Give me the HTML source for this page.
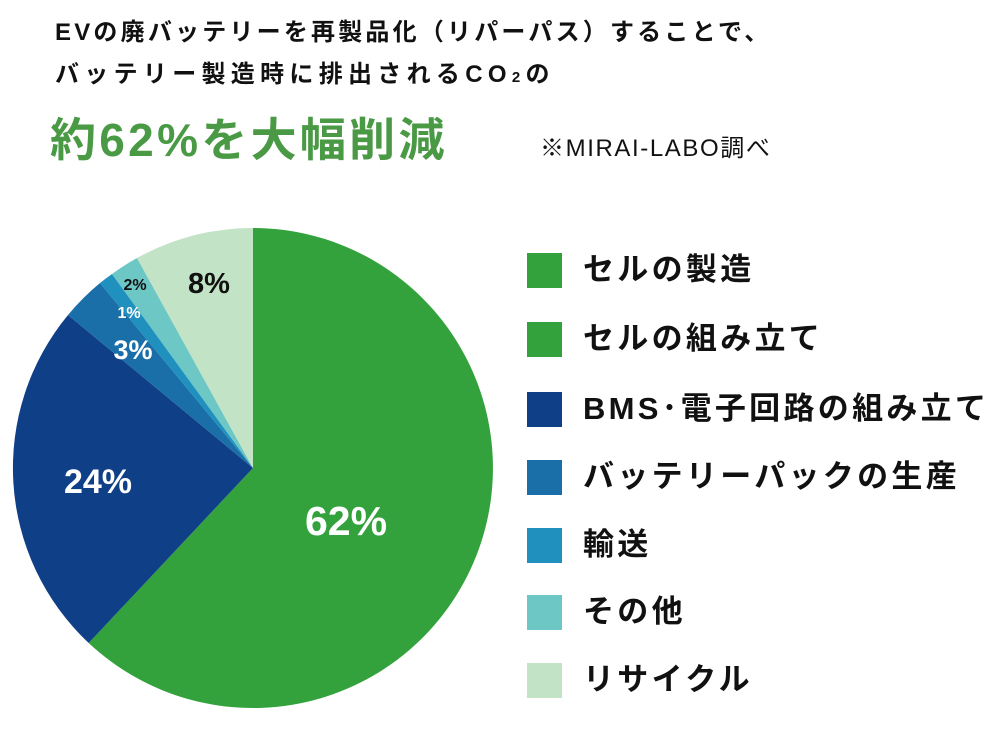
<!DOCTYPE html>
<html><head><meta charset="utf-8"><style>
body{margin:0;width:1000px;height:750px;background:#fff;overflow:hidden;font-family:"Liberation Sans","Noto Sans CJK JP",sans-serif;}
.t{position:absolute;font-weight:bold;color:#111;white-space:nowrap;}
.sq{position:absolute;left:527px;width:35px;height:35px;}
.lg{position:absolute;left:583px;font-size:31px;letter-spacing:3.3px;font-weight:bold;color:#111;white-space:nowrap;line-height:1;}
</style></head><body>
<div class="t" style="left:55px;top:12px;font-size:24px;letter-spacing:3.2px;">EVの廃バッテリーを再製品化（リパーパス）することで、</div>
<div class="t" style="left:55px;top:54px;font-size:24px;letter-spacing:5.3px;">バッテリー製造時に排出されるCO<span style="font-size:15px">2</span>の</div>
<div class="t" style="left:50px;top:104px;font-size:46px;letter-spacing:3.3px;color:#4a9a45;">約62%を大幅削減</div>
<div class="t" style="left:540px;top:128px;font-size:24px;letter-spacing:1.6px;font-weight:normal;">※MIRAI-LABO調べ</div>
<svg width="1000" height="750" style="position:absolute;left:0;top:0">
<path d="M253,468 L253,228 A240,240 0 1 1 88.7,643 Z" fill="#33a23d"/>
<path d="M253,468 L88.7,643 A240,240 0 0 1 68,315 Z" fill="#0f3f86"/>
<path d="M253,468 L68,315 A240,240 0 0 1 100,283 Z" fill="#1a6fa8"/>
<path d="M253,468 L100,283 A240,240 0 0 1 112,274 Z" fill="#2090bf"/>
<path d="M253,468 L112,274 A240,240 0 0 1 137,258 Z" fill="#6cc7c5"/>
<path d="M253,468 L137,258 A240,240 0 0 1 253,228 Z" fill="#c2e3c5"/>
<g font-family="Liberation Sans, sans-serif" font-weight="bold" text-anchor="middle">
<text x="346" y="535" font-size="41" fill="#fff">62%</text>
<text x="98" y="493" font-size="34" fill="#fff">24%</text>
<text x="133" y="359" font-size="27" fill="#fff">3%</text>
<text x="129" y="318" font-size="16" fill="#fff">1%</text>
<text x="135" y="290" font-size="16" fill="#111">2%</text>
<text x="209" y="293" font-size="29" fill="#111">8%</text>
</g>
</svg>
<div class="sq" style="top:253px;background:#33a23d"></div><div class="lg" style="top:254px">セルの製造</div>
<div class="sq" style="top:322px;background:#33a23d"></div><div class="lg" style="top:323px">セルの組み立て</div>
<div class="sq" style="top:392px;background:#0f3f86"></div><div class="lg" style="top:393px">BMS･電子回路の組み立て</div>
<div class="sq" style="top:460px;background:#1a6fa8"></div><div class="lg" style="top:461px">バッテリーパックの生産</div>
<div class="sq" style="top:528px;background:#2090bf"></div><div class="lg" style="top:529px">輸送</div>
<div class="sq" style="top:595px;background:#6cc7c5"></div><div class="lg" style="top:596px">その他</div>
<div class="sq" style="top:663px;background:#c2e3c5"></div><div class="lg" style="top:664px">リサイクル</div>
</body></html>
